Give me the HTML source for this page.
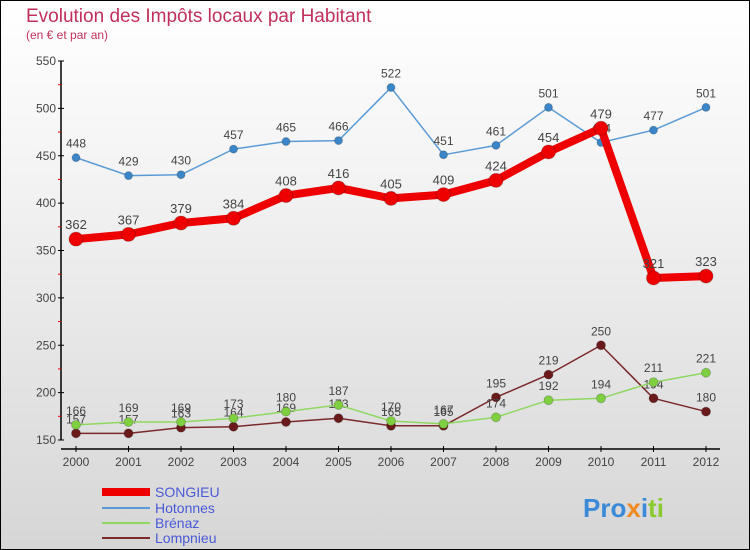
<!DOCTYPE html>
<html><head><meta charset="utf-8"><style>
body{margin:0;width:750px;height:550px;overflow:hidden;font-family:"Liberation Sans",sans-serif}
#wrap{position:absolute;left:0;top:0;width:748px;height:548px;border:1px solid #000;background:linear-gradient(#ffffff,#f4f4f4 30%,#d6d6d6)}
</style></head><body>
<div id="wrap">
<svg id="svg" width="750" height="550" style="position:absolute;left:-1px;top:-1px">
<text x="26" y="22" font-size="19" fill="#c0305a">Evolution des Impôts locaux par Habitant</text>
<text x="26" y="39" font-size="12" fill="#c0305a">(en € et par an)</text>
<g id="axes"></g><g id="series"></g>
<g font-size="14">
<line x1="102" y1="492" x2="150" y2="492" stroke="#ee0000" stroke-width="8"/>
<text x="155" y="497" fill="#4a5ad8">SONGIEU</text>
<line x1="102" y1="508" x2="150" y2="508" stroke="#5b9bd5" stroke-width="2"/>
<text x="155" y="513" fill="#4a5ad8">Hotonnes</text>
<line x1="102" y1="523" x2="150" y2="523" stroke="#8fd860" stroke-width="2"/>
<text x="155" y="528" fill="#4a5ad8">Brénaz</text>
<line x1="102" y1="538" x2="150" y2="538" stroke="#7a2a2a" stroke-width="2"/>
<text x="155" y="543" fill="#4a5ad8">Lompnieu</text>
</g>
<text x="583" y="517" font-size="26" font-weight="bold"><tspan fill="#3a8ad8">Pro</tspan><tspan fill="#f08a20">x</tspan><tspan fill="#3a8ad8">i</tspan><tspan fill="#8acb30">ti</tspan></text>
</svg></div>
<script>
const years=["2000","2001","2002","2003","2004","2005","2006","2007","2008","2009","2010","2011","2012"];
const yTicks=[150,200,250,300,350,400,450,500,550];
const songieu=[362,367,379,384,408,416,405,409,424,454,479,321,323];
const hotonnes=[448,429,430,457,465,466,522,451,461,501,464,477,501];
const brenaz=[166,169,169,173,180,187,170,167,174,192,194,211,221];
const lompnieu=[157,157,163,164,169,173,165,165,195,219,250,194,180];
const NS="http://www.w3.org/2000/svg";
const X=i=>76+i*52.5, Y=v=>440-(v-150)*379/400;
function mk(t,a,p){const e=document.createElementNS(NS,t);for(const k in a)e.setAttribute(k,a[k]);p.appendChild(e);return e;}
const ax=document.getElementById('axes'),sg=document.getElementById('series');
let l=mk('line',{x1:61,y1:Y(550),x2:61,y2:440,stroke:'#000','stroke-width':1.5},ax);

l=mk('line',{x1:61,y1:449,x2:720,y2:449,stroke:'#000','stroke-width':1.5},ax);

yTicks.forEach((v,i)=>{mk('line',{x1:58,y1:Y(v),x2:64,y2:Y(v),stroke:'#000'},ax);
 if(i<yTicks.length-1)mk('line',{x1:58,y1:Y(v+25),x2:61,y2:Y(v+25),stroke:'#e00'},ax);
 const t=mk('text',{x:56,y:Y(v)+4,'font-size':12,fill:'#444','text-anchor':'end'},ax);t.textContent=v;
 });
years.forEach((y,i)=>{mk('line',{x1:X(i),y1:446,x2:X(i),y2:452,stroke:'#000'},ax);
 const t=mk('text',{x:X(i),y:466,'font-size':12,fill:'#444','text-anchor':'middle'},ax);t.textContent=y;
 });
function series(d,name,col,w,r,dot,fs){const g=mk('g',{},sg);
 
 mk('polyline',{points:d.map((v,i)=>X(i)+','+Y(v)).join(' '),fill:'none',stroke:col,'stroke-width':w,'stroke-linejoin':'round'},g);
 d.forEach((v,i)=>{const c=mk('circle',{cx:X(i),cy:Y(v),r:r,fill:dot,stroke:'#0003'},g);
  
  const t=mk('text',{x:X(i),y:Y(v)-10,'font-size':fs,fill:'#444','text-anchor':'middle'},g);t.textContent=v;
  });}
series(lompnieu,'lompnieu','#7a2a2a',1.5,4.5,'#6a1a1a',12);
series(brenaz,'brenaz','#8fd860',1.5,4.5,'#7fd040',12);
series(hotonnes,'hotonnes','#5b9bd5',1.5,4,'#3a86c8',12);
series(songieu,'songieu','#ee0000',8,7,'#ee0000',13);
</script></body></html>
